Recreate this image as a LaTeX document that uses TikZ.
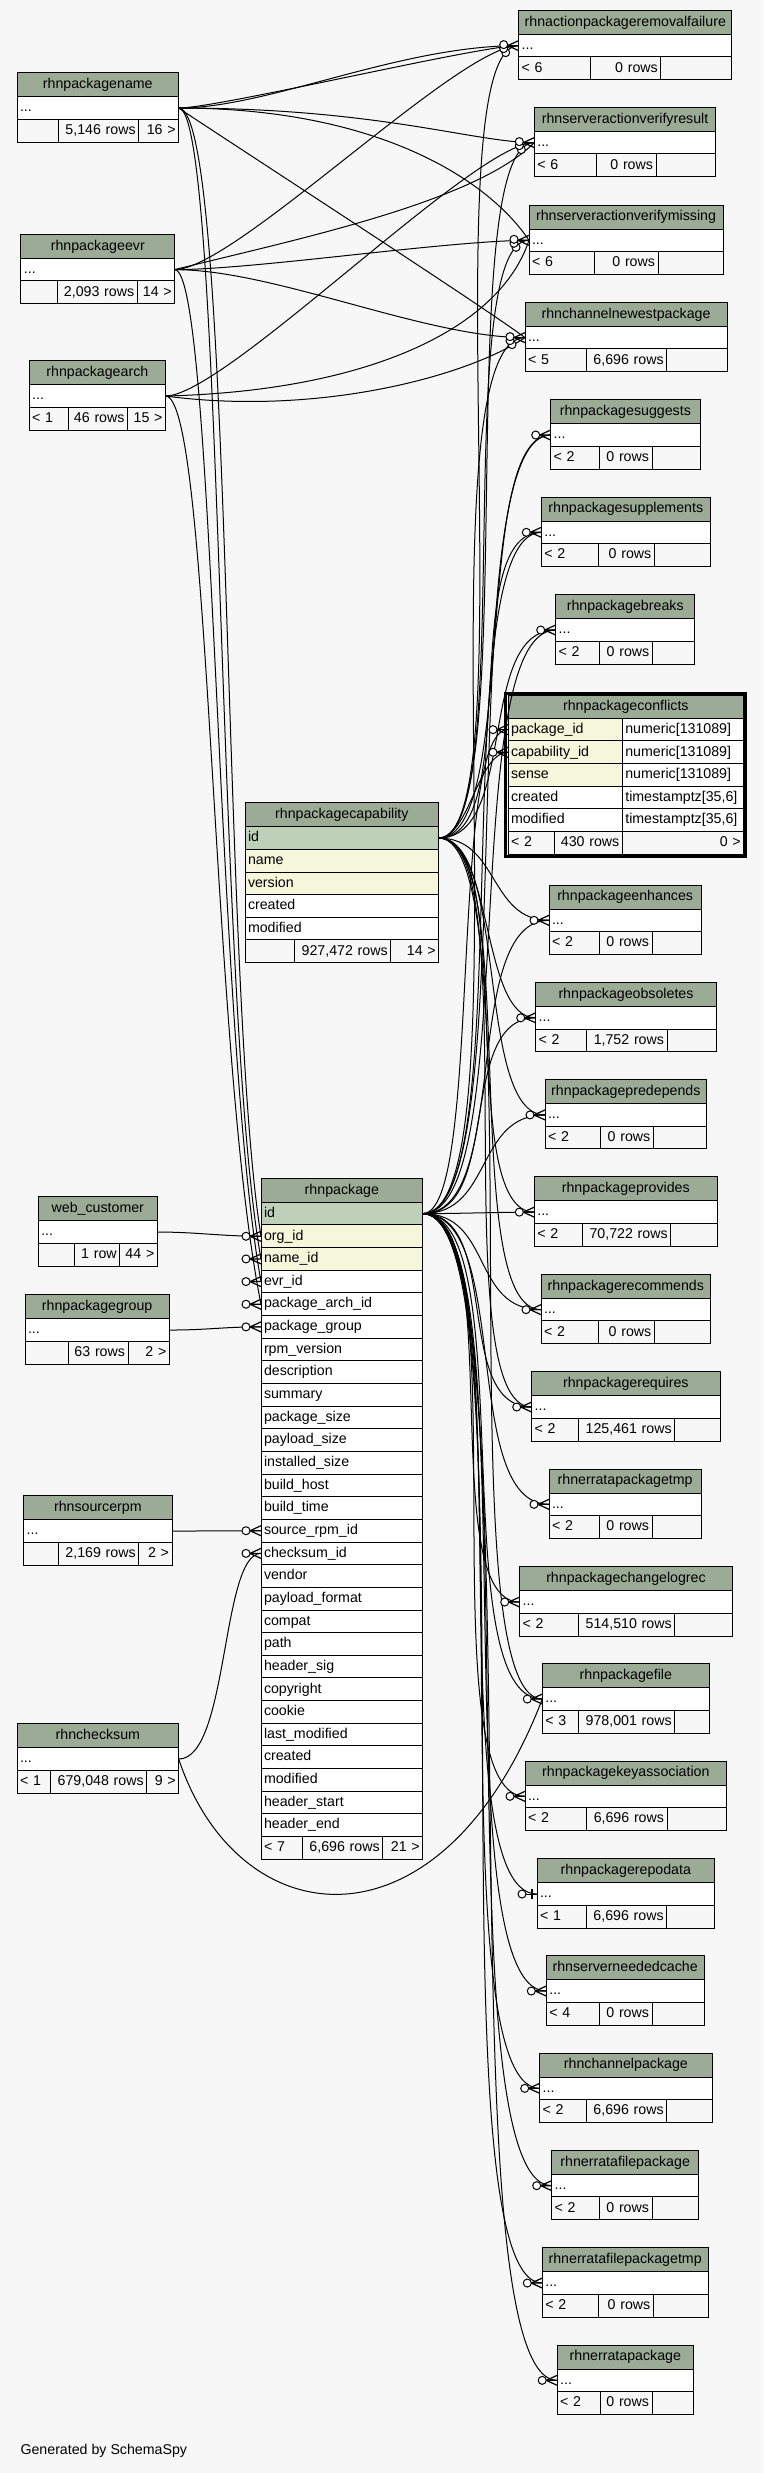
\documentclass[tikz,border=0pt]{standalone}
\usepackage{fontspec}
\setmainfont{Liberation Sans}
\definecolor{hdrgreen}{HTML}{9BAB96}
\definecolor{pkgreen}{HTML}{BED1B8}
\definecolor{ixyellow}{HTML}{F4F7DA}
\definecolor{bgray}{HTML}{F7F7F7}
\newcommand{\tabfont}{\fontsize{14.2pt}{17pt}\selectfont}
\tikzset{
  tbox/.style={draw, line width=1pt, inner xsep=3pt, inner ysep=0pt, outer sep=0pt,
    minimum height=22.65pt, text height=10.5pt, text depth=3pt, anchor=north west, font=\tabfont},
  hdr/.style={tbox, fill=hdrgreen, minimum height=24pt},
  dotrow/.style={tbox, fill=white, align=left},
  plrow/.style={tbox, fill=white, align=left},
  ixrow/.style={tbox, fill=ixyellow, align=left},
  fleft/.style={tbox, fill=bgray, align=left},
  fright/.style={tbox, fill=bgray, align=right},
  fk/.style={line width=1pt},
  crowo/.pic={
    \draw[line width=1.2pt] (-11,0) -- (0,-5) (-11,0) -- (0,5) (-11,0) -- (0,0);
    \draw[line width=1pt, fill=white] (-15,0) circle[radius=4pt];
  },
  crowmany/.pic={
    \draw[line width=1.2pt] (-11,0) -- (0,-5) (-11,0) -- (0,5) (-11,0) -- (0,0);
    \draw[line width=1pt, fill=white] (-13,7) circle[radius=4pt];
    \draw[line width=1pt, fill=white] (-15,3) circle[radius=4pt];
    \draw[line width=1pt, fill=white] (-15,-1) circle[radius=4pt];
  },
  baro/.pic={
    \draw[line width=1pt] (-11,0) -- (0,0);
    \draw[line width=2.5pt] (-5,-5) -- (-5,5);
    \draw[line width=1pt, fill=white] (-15,0) circle[radius=4pt];
  }
}
% footer texts {left}{mid}{right}
\newcommand{\dbfoot}[3]{\def\ftl{#1}\def\ftm{#2}\def\ftr{#3}}
% id, x, y, divider 1, divider 2, right edge, title, footer
\newcommand{\dbtable}[8]{%
  \dbfoot#8%
  \pgfmathsetmacro\tbw{#6-#2}%
  \pgfmathsetmacro\tbt{#6-#2-6}%
  \pgfmathsetmacro\tbl{#4-#2-6}%
  \pgfmathsetmacro\tbm{#5-#4-6}%
  \pgfmathsetmacro\tbr{#6-#5-6}%
  \node[hdr, minimum width=\tbw pt] (#1) at (#2,#3) {#7};
  \node[dotrow, text width=\tbt pt] (#1-r) at (#1.south west) {...};
  \node[fleft, text width=\tbl pt] (#1-fl) at (#1-r.south west) {\ftl};
  \node[fright, text width=\tbm pt] (#1-fm) at (#1-fl.north east) {\ftm};
  \node[fright, text width=\tbr pt] (#1-fr) at (#1-fm.north east) {\ftr};
}

\begin{document}
\begin{tikzpicture}[x=1pt,y=-1pt]
\fill[bgray] (0,0) rectangle (763,2473);
\useasboundingbox (0,0) rectangle (763,2473);

% left column
\dbtable{pname}{17}{72.7}{58.4}{138.7}{178.6}{rhnpackagename}{{}{5,146 rows}{16 >}}
\dbtable{pevr}{20.9}{234.3}{57}{137.2}{174.7}{rhnpackageevr}{{}{2,093 rows}{14 >}}
\dbtable{parch}{29.2}{360.7}{68}{127.5}{165.5}{rhnpackagearch}{{< 1}{46 rows}{15 >}}
\dbtable{webc}{38.3}{1196.7}{74.3}{119.7}{157.3}{web\_customer}{{}{1 row}{44 >}}
\dbtable{pgroup}{25}{1294.7}{68}{128}{169.3}{rhnpackagegroup}{{}{63 rows}{2 >}}
\dbtable{srpm}{23.7}{1495.7}{58.7}{138.7}{172}{rhnsourcerpm}{{}{2,169 rows}{2 >}}
\dbtable{csum}{17}{1723.7}{50.3}{146.7}{178.7}{rhnchecksum}{{< 1}{679,048 rows}{9 >}}

% rhnpackagecapability
\node[hdr, minimum width=193.7pt] (pcap) at (245,802.7) {rhnpackagecapability};
\foreach \c/\rc [count=\i from 0] in {id/pkgreen, name/ixyellow, version/ixyellow, created/white, modified/white}
  \node[plrow, fill=\rc, text width=187.7pt] (pcap-\i) at (245,{826.7+22.65*\i}) {\c};
\node[fleft, text width=43.7pt] (pcap-fl) at (pcap-4.south west) {};
\node[fright, text width=90pt] (pcap-fm) at (pcap-fl.north east) {927,472 rows};
\node[fright, text width=42pt] (pcap-fr) at (pcap-fm.north east) {14 >};

% rhnpackage
\node[hdr, minimum width=161.7pt] (pkg) at (261,1178.3) {rhnpackage};
\foreach \c [count=\i from 0] in {id, org\_id, name\_id, evr\_id, package\_arch\_id, package\_group,
    rpm\_version, description, summary, package\_size, payload\_size, installed\_size, build\_host,
    build\_time, source\_rpm\_id, checksum\_id, vendor, payload\_format, compat, path, header\_sig,
    copyright, cookie, last\_modified, created, modified, header\_start, header\_end}{
  \ifnum\i=0 \def\rc{pkgreen}\else\ifnum\i<3 \def\rc{ixyellow}\else\def\rc{white}\fi\fi
  \node[plrow, fill=\rc, text width=155.7pt] (pkg-\i) at (261,{1202.3+22.65*\i}) {\c};
}
\node[fleft, text width=35.7pt] (pkg-fl) at (pkg-27.south west) {< 7};
\node[fright, text width=74pt] (pkg-fm) at (pkg-fl.north east) {6,696 rows};
\node[fright, text width=34pt] (pkg-fr) at (pkg-fm.north east) {21 >};

% right column
\dbtable{raf}{518.7}{10.3}{590.3}{660.8}{731.9}{rhnactionpackageremovalfailure}{{< 6}{0 rows}{}}
\dbtable{svr}{534.3}{107.3}{596.1}{656}{715.8}{rhnserveractionverifyresult}{{< 6}{0 rows}{}}
\dbtable{svm}{529}{205}{594.6}{658}{723}{rhnserveractionverifymissing}{{< 6}{0 rows}{}}
\dbtable{cnp}{525}{302.3}{586.4}{666.7}{727}{rhnchannelnewestpackage}{{< 5}{6,696 rows}{}}
\dbtable{psug}{550.7}{399.7}{599.7}{652}{700}{rhnpackagesuggests}{{< 2}{0 rows}{}}
\dbtable{psup}{541.3}{497}{598.7}{654.3}{710.3}{rhnpackagesupplements}{{< 2}{0 rows}{}}
\dbtable{pbrk}{555.7}{594.7}{599.7}{652.3}{694.7}{rhnpackagebreaks}{{< 2}{0 rows}{}}
\dbtable{penh}{549}{885}{599.7}{652}{701.3}{rhnpackageenhances}{{< 2}{0 rows}{}}
\dbtable{pobs}{535.7}{982.5}{586.7}{667}{716.3}{rhnpackageobsoletes}{{< 2}{1,752 rows}{}}
\dbtable{ppre}{545}{1079.6}{600}{653.3}{706.7}{rhnpackagepredepends}{{< 2}{0 rows}{}}
\dbtable{pprov}{534.3}{1176.8}{582.7}{670.7}{717.3}{rhnpackageprovides}{{< 2}{70,722 rows}{}}
\dbtable{prec}{541}{1274.3}{598.7}{654.3}{710.7}{rhnpackagerecommends}{{< 2}{0 rows}{}}
\dbtable{preq}{531.7}{1371.7}{578.7}{674.7}{720}{rhnpackagerequires}{{< 2}{125,461 rows}{}}
\dbtable{eptmp}{549}{1469}{599.7}{652}{701.3}{rhnerratapackagetmp}{{< 2}{0 rows}{}}
\dbtable{pclog}{519.7}{1566.7}{578.7}{674.7}{732.3}{rhnpackagechangelogrec}{{< 2}{514,510 rows}{}}
\dbtable{pfile}{542.3}{1663.7}{578.7}{674.7}{709.3}{rhnpackagefile}{{< 3}{978,001 rows}{}}
\dbtable{pkey}{525}{1761}{586.7}{667}{726.7}{rhnpackagekeyassociation}{{< 2}{6,696 rows}{}}
\dbtable{prepo}{537}{1858.7}{586.7}{666.7}{714.7}{rhnpackagerepodata}{{< 1}{6,696 rows}{}}
\dbtable{sncache}{546.3}{1955.7}{599.7}{652}{704}{rhnserverneededcache}{{< 4}{0 rows}{}}
\dbtable{chpkg}{539.7}{2053}{586.7}{666.7}{712}{rhnchannelpackage}{{< 2}{6,696 rows}{}}
\dbtable{efpkg}{551.7}{2150.3}{599.7}{652}{698.7}{rhnerratafilepackage}{{< 2}{0 rows}{}}
\dbtable{efptmp}{542.3}{2247.7}{598.7}{653.3}{708}{rhnerratafilepackagetmp}{{< 2}{0 rows}{}}
\dbtable{epkg}{557.2}{2345}{600}{652}{693.4}{rhnerratapackage}{{< 2}{0 rows}{}}

% rhnpackageconflicts (focus table)
\node[hdr, minimum width=235.7pt, minimum height=23.3pt] (pconf) at (508,695) {rhnpackageconflicts};
\node[ixrow, text width=108.3pt] (pconf-pid) at (pconf.south west) {package\_id};
\node[plrow, text width=115.4pt] (pconf-t1) at (pconf-pid.north east) {numeric[131089]};
\node[ixrow, text width=108.3pt] (pconf-cid) at (pconf-pid.south west) {capability\_id};
\node[plrow, text width=115.4pt] (pconf-t2) at (pconf-cid.north east) {numeric[131089]};
\node[ixrow, text width=108.3pt] (pconf-sn) at (pconf-cid.south west) {sense};
\node[plrow, text width=115.4pt] (pconf-t3) at (pconf-sn.north east) {numeric[131089]};
\node[plrow, text width=108.3pt] (pconf-cr) at (pconf-sn.south west) {created};
\node[plrow, text width=115.4pt] (pconf-t4) at (pconf-cr.north east) {timestamptz[35,6]};
\node[plrow, text width=108.3pt] (pconf-md) at (pconf-cr.south west) {modified};
\node[plrow, text width=115.4pt] (pconf-t5) at (pconf-md.north east) {timestamptz[35,6]};
\node[fleft, text width=40.7pt] (pconf-fl) at (pconf-md.south west) {< 2};
\node[fright, text width=61.6pt] (pconf-fm) at (pconf-fl.north east) {430 rows};
\node[fright, text width=115.4pt] (pconf-fr) at (pconf-fm.north east) {0 >};
\draw[line width=3pt] (505.8,693.3) rectangle (745,856.4);

% rhnpackagename
\draw[fk] (pname-r.east) .. controls +(90,0) and +(-120,0) .. (raf-r.west);
\draw[fk] (pname-r.east) .. controls +(40,0) and +(-40,0) .. (raf-r.west);
\draw[fk] (pname-r.east) .. controls +(200,0) and +(-60,0) .. (svr-r.west);
\draw[fk] (pname-r.east) .. controls +(200,0) and +(-40,-60) .. (svm-r.west);
\draw[fk] (pname-r.east) .. controls +(60,40) and +(-40,-30) .. (cnp-r.west);
\draw[fk] (pname-r.east) .. controls +(45,0) and +(-45,-250) .. (pkg-2.west);
\draw[fk] (pname-r.east) .. controls +(55,0) and +(-40,-250) .. (pkg-1.west);
% rhnpackageevr
\draw[fk] (pevr-r.east) .. controls +(60,0) and +(-60,0) .. (raf-r.west);
\draw[fk] (pevr-r.east) .. controls +(120,-30) and +(-60,60) .. (svr-r.west);
\draw[fk] (pevr-r.east) .. controls +(80,0) and +(-80,0) .. (svm-r.west);
\draw[fk] (pevr-r.east) .. controls +(100,0) and +(-100,0) .. (cnp-r.west);
\draw[fk] (pevr-r.east) .. controls +(40,0) and +(-45,-250) .. (pkg-3.west);
% rhnpackagearch
\draw[fk] (parch-r.east) .. controls +(60,0) and +(-60,0) .. (svr-r.west);
\draw[fk] (parch-r.east) .. controls +(200,-5) and +(-30,90) .. (svm-r.west);
\draw[fk] (parch-r.east) .. controls +(150,20) and +(-60,40) .. (cnp-r.west);
\draw[fk] (parch-r.east) .. controls +(45,0) and +(-50,-250) .. (pkg-4.west);
% web_customer, rhnpackagegroup, rhnsourcerpm, rhnchecksum
\draw[fk] (webc-r.east) .. controls +(40,0) and +(-40,0) .. (pkg-1.west);
\draw[fk] (pgroup-r.east) .. controls +(40,0) and +(-40,0) .. (pkg-5.west);
\draw[fk] (srpm-r.east) .. controls +(40,0) and +(-40,0) .. (pkg-14.west);
\draw[fk] (csum-r.east) .. controls +(50,0) and +(-40,0) .. (pkg-15.west);
\draw[fk] (csum-r.east) .. controls +(60,180) and +(-100,260) .. (pfile-r.west);
% rhnpackagecapability
\foreach \t/\a in {raf/90, svr/85, svm/80, psug/80, psup/85, pbrk/80, penh/60, pobs/55,
    ppre/70, pprov/80, prec/85, preq/90, pfile/100}
  \draw[fk] (pcap-0.east) .. controls +(\a,0) and +(-\a,0) .. (\t-r.west);
\draw[fk] (pcap-0.east) .. controls +(30,0) and +(-30,0) .. (pconf-cid.west);
% rhnpackage
\foreach \t/\a in {cnp/110, psug/105, psup/100, pbrk/100, penh/90, pobs/80, ppre/70, pprov/40,
    prec/70, preq/80, eptmp/90, pclog/85, pfile/100, pkey/100, prepo/105, sncache/110, chpkg/110,
    efpkg/115, efptmp/115, epkg/120}
  \draw[fk] (pkg-0.east) .. controls +(\a,0) and +(-\a,0) .. (\t-r.west);
\draw[fk] (pkg-0.east) .. controls +(60,0) and +(-60,0) .. (pconf-pid.west);

% ends
\foreach \t in {raf, svr, svm, cnp} \path (\t-r.west) pic {crowmany};
\foreach \t in {psug, psup, pbrk, penh, pobs, ppre, pprov, prec, preq, eptmp, pclog, pfile,
    pkey, sncache, chpkg, efpkg, efptmp, epkg} \path (\t-r.west) pic {crowo};
\path (prepo-r.west) pic {baro};
\foreach \t in {pconf-pid, pconf-cid, pkg-1, pkg-2, pkg-3, pkg-4, pkg-5, pkg-14, pkg-15}
  \path (\t.west) pic {crowo};

\node[anchor=west, font=\tabfont] (gen) at (17,2451) {Generated by SchemaSpy};
\end{tikzpicture}
\end{document}
